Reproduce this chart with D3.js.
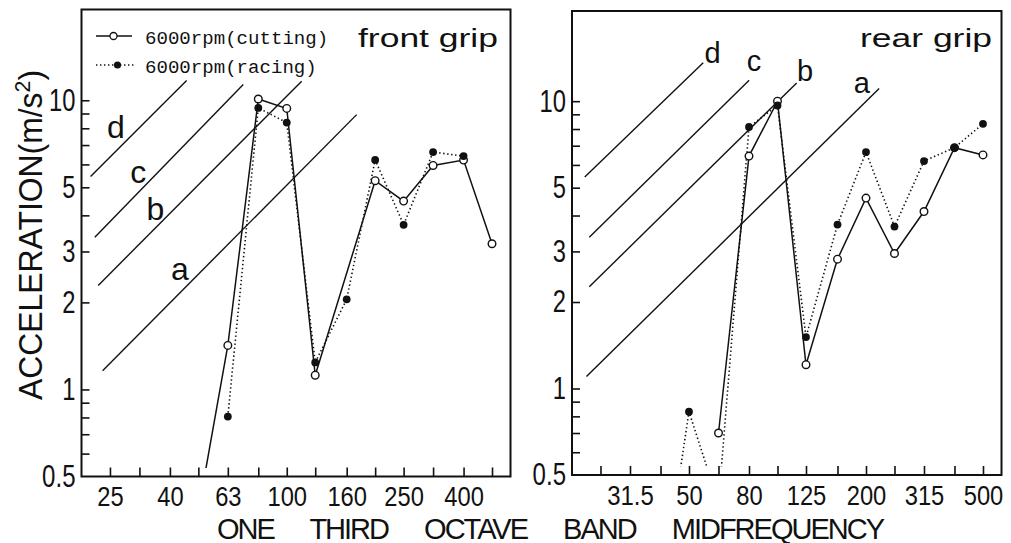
<!DOCTYPE html>
<html><head><meta charset="utf-8">
<script src="https://cdn.jsdelivr.net/npm/d3@7"></script>
<style>
html,body{margin:0;padding:0;background:#fff;}
svg{display:block;}
</style></head><body>
<svg id="chart" width="1011" height="543"></svg>
<script>
// ---------------- data ----------------
const tickBands = [25,31.5,40,50,63,80,100,125,160,200,250,315,400,500];
const leftXLabels = [25,40,63,100,160,250,400];
const rightXLabels = [31.5,50,80,125,200,315,500];
const yMinorTicks = [0.6,0.7,0.8,0.9,1,2,3,4,5,6,7,8,9,10];
const yLabels = [0.5,1,2,3,5,10];

const freqs = [40,50,63,80,100,125,160,200,250,315,400,500];
const frontCutting = [null,0.38,1.42,10.1,9.37,1.12,null,5.27,4.48,5.95,6.21,3.19];
const frontRacing  = [null,null,0.806,9.41,8.37,1.24,2.05,6.22,3.71,6.62,6.41,null];
const rearCutting  = [null,null,0.70,6.44,10.0,1.21,2.82,4.6,2.95,4.13,6.89,6.5];
const rearRacing   = [0.18,0.83,0.4,8.13,9.66,1.51,3.72,6.65,3.66,6.19,6.89,8.34];

const refNames = ["a","b","c","d"];
const frontRefStart = [[23.6,1.16],[22.8,2.29],[22.2,3.36],[21.47,5.45]];
const frontRefEnd   = [[173,8.92],[112.4,11.64],[71.1,11.34],[45.6,11.7]];
const frontRefLabel = [[43.3,2.39],[35.7,3.86],[31.2,5.17],[26.2,7.41]];
const rearRefStart  = [[22.4,1.10],[22.9,2.26],[22.9,3.36],[22.1,5.45]];
const rearRefEnd    = [[221.7,11.07],[116.2,11.57],[80.1,11.83],[55.9,13.6]];
const rearRefLabel  = [[193.5,10.69],[124.1,11.73],[83.2,12.7],[60.1,13.6]];

const legendLabels = ["6000rpm(cutting)","6000rpm(racing)"];
const panelTitles = ["front grip","rear grip"];
const yTitle = "ACCELERATION(m/s";
const xTitle = "ONE THIRD OCTAVE BAND MIDFREQUENCY";

// ---------------- layout ----------------
const svg = d3.select("#chart");
const NUMFONT = '"Liberation Sans","DejaVu Sans",sans-serif';
const SANS = '"Liberation Sans","DejaVu Sans",sans-serif';
const numWidth = s => Array.from(s).reduce((w,c) => w + (c === "." ? 7 : 13.2), 0);

const panels = [
  {id:"front", x0:81.5, x1:510.5, yt:9.5, yb:476.5, xLabels:leftXLabels,
   cutting:frontCutting, racing:frontRacing, refS:frontRefStart, refE:frontRefEnd, refL:frontRefLabel,
   refFont:32, title:panelTitles[0], titleX:358, titleLen:140, legend:true},
  {id:"rear", x0:572, x1:1001.5, yt:11, yb:475, xLabels:rightXLabels,
   cutting:rearCutting, racing:rearRacing, refS:rearRefStart, refE:rearRefEnd, refL:rearRefLabel,
   refFont:29, title:panelTitles[1], titleX:860, titleLen:132, legend:false}
];

panels.forEach(p => {
  const x = d3.scaleLog().domain([20,578]).range([p.x0,p.x1]);
  const y = d3.scaleLog().domain([0.5,20.6]).range([p.yb,p.yt]);
  const g = svg.append("g");

  const clipId = "clip-" + p.id;
  svg.append("clipPath").attr("id", clipId).append("rect")
    .attr("x", p.x0).attr("y", p.yt)
    .attr("width", p.x1 - p.x0).attr("height", y(0.535) - p.yt);

  // ticks (inward)
  const xt = g.append("g").attr("transform", `translate(0,${p.yb})`)
    .call(d3.axisBottom(x).tickValues(tickBands).tickSize(-9).tickFormat(""));
  xt.select(".domain").remove();
  xt.selectAll("line").attr("stroke","#111").attr("stroke-width",1.6);

  const yt = g.append("g").attr("transform", `translate(${p.x0},0)`)
    .call(d3.axisLeft(y).tickValues(yMinorTicks).tickSize(-8).tickFormat(""));
  yt.select(".domain").remove();
  yt.selectAll("line").attr("stroke","#111").attr("stroke-width",1.6);

  // tick labels
  const xl = g.append("g").attr("transform", `translate(0,${p.yb})`)
    .call(d3.axisBottom(x).tickValues(p.xLabels).tickSize(0).tickPadding(10).tickFormat(d => String(d)));
  xl.select(".domain").remove();
  xl.selectAll("text").attr("font-family", NUMFONT).attr("font-size", 28).attr("fill","#111")
    .attr("textLength", d => numWidth(String(d))).attr("lengthAdjust","spacingAndGlyphs");

  const yl = g.append("g").attr("transform", `translate(${p.x0},0)`)
    .call(d3.axisLeft(y).tickValues(yLabels).tickSize(0).tickPadding(6).tickFormat(d => String(d)));
  yl.select(".domain").remove();
  yl.selectAll("text").attr("font-family", NUMFONT).attr("font-size", 31).attr("fill","#111")
    .attr("textLength", d => numWidth(String(d))).attr("lengthAdjust","spacingAndGlyphs");

  // frame
  g.append("rect").attr("x", p.x0).attr("y", p.yt)
    .attr("width", p.x1 - p.x0).attr("height", p.yb - p.yt)
    .attr("fill","none").attr("stroke","#111").attr("stroke-width",2);

  // reference lines a-d
  refNames.forEach((n,i) => {
    g.append("line")
      .attr("x1", x(p.refS[i][0])).attr("y1", y(p.refS[i][1]))
      .attr("x2", x(p.refE[i][0])).attr("y2", y(p.refE[i][1]))
      .attr("stroke","#111").attr("stroke-width",1.4);
    g.append("text").attr("x", x(p.refL[i][0])).attr("y", y(p.refL[i][1]))
      .attr("text-anchor","middle").attr("font-family", SANS)
      .attr("font-size", p.refFont).attr("fill","#111").text(n);
  });

  // series
  const plot = g.append("g").attr("clip-path", `url(#${clipId})`);
  const mk = vals => freqs.map((f,i) => ({f, v: vals[i]})).filter(d => d.v != null);
  const cut = mk(p.cutting), rac = mk(p.racing);
  const line = d3.line().x(d => x(d.f)).y(d => y(d.v));
  plot.append("path").attr("d", line(rac)).attr("fill","none")
    .attr("stroke","#111").attr("stroke-width",1.6).attr("stroke-dasharray","1.4,2.6");
  plot.append("path").attr("d", line(cut)).attr("fill","none")
    .attr("stroke","#111").attr("stroke-width",1.5);
  plot.selectAll(".oc").data(cut).join("circle")
    .attr("cx", d => x(d.f)).attr("cy", d => y(d.v)).attr("r", 3.8)
    .attr("fill","#fff").attr("stroke","#111").attr("stroke-width",1.4);
  plot.selectAll(".fc").data(rac).join("circle")
    .attr("cx", d => x(d.f)).attr("cy", d => y(d.v)).attr("r", 3.9)
    .attr("fill","#111");

  // panel title
  g.append("text").attr("x", p.titleX).attr("y", 46.5)
    .attr("font-family", SANS).attr("font-size", 25).attr("fill","#111")
    .attr("textLength", p.titleLen).attr("lengthAdjust","spacingAndGlyphs")
    .text(p.title);

  // legend
  if (p.legend) {
    const lg = g.append("g");
    lg.append("line").attr("x1",96).attr("x2",132).attr("y1",36).attr("y2",36)
      .attr("stroke","#111").attr("stroke-width",1.5);
    lg.append("circle").attr("cx",113.5).attr("cy",36).attr("r",3.5)
      .attr("fill","#fff").attr("stroke","#111").attr("stroke-width",1.3);
    lg.append("line").attr("x1",96).attr("x2",134).attr("y1",65).attr("y2",65)
      .attr("stroke","#111").attr("stroke-width",1.5).attr("stroke-dasharray","1.4,2.6");
    lg.append("circle").attr("cx",117.5).attr("cy",65).attr("r",3.6).attr("fill","#111");
    lg.selectAll("text").data(legendLabels).join("text")
      .attr("x",145).attr("y",(d,i) => 43.5 + i*29)
      .attr("font-family",'"Liberation Mono","DejaVu Sans Mono",monospace')
      .attr("font-size",19).attr("fill","#111")
      .attr("textLength",(d)=>d.length*11.45).attr("lengthAdjust","spacingAndGlyphs")
      .text(d => d);
  }
});

// axis titles
const ytitle = svg.append("text")
  .attr("transform","translate(42,400) rotate(-90)")
  .attr("font-family", NUMFONT).attr("font-size", 33).attr("fill","#111")
  .attr("textLength", 330).attr("lengthAdjust","spacingAndGlyphs");
ytitle.append("tspan").text(yTitle);
ytitle.append("tspan").attr("dy",-12).attr("font-size",22).text("2");
ytitle.append("tspan").attr("dy",12).text(")");

svg.append("text").attr("x",217).attr("y",538.5)
  .attr("font-family", NUMFONT).attr("font-size", 29).attr("fill","#111")
  .attr("textLength", 668).attr("lengthAdjust","spacing")
  .style("word-spacing","30px")
  .text(xTitle);
</script></body></html>
